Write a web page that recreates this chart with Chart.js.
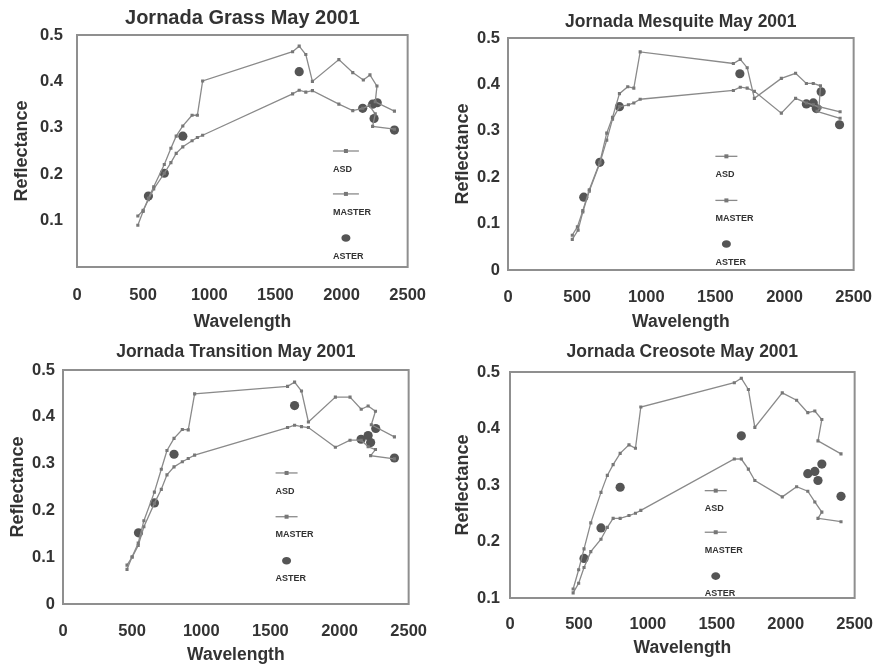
<!DOCTYPE html>
<html>
<head>
<meta charset="utf-8">
<script src="https://cdn.jsdelivr.net/npm/chart.js@4.4.1/dist/chart.umd.min.js"></script>
<style>
  body { margin: 0; background: #fff; width: 890px; height: 669px; overflow: hidden; position: relative; }
  canvas { position: absolute; }
</style>
</head>
<body>
<canvas id="grass" width="445" height="335" style="left:0;top:0"></canvas>
<canvas id="mesquite" width="445" height="335" style="left:445px;top:0"></canvas>
<canvas id="transition" width="445" height="334" style="left:0;top:335px"></canvas>
<canvas id="creosote" width="445" height="334" style="left:445px;top:335px"></canvas>
<script>
// ---- Jornada Grass ----
var grassAsdWl  = [460, 500, 540, 580, 660, 710, 750, 800, 870, 910, 950, 1630, 1680, 1730, 1780, 1980, 2085, 2165, 2215, 2268, 2255, 2400];
var grassAsd    = [0.09, 0.12, 0.148, 0.173, 0.221, 0.256, 0.282, 0.304, 0.327, 0.327, 0.401, 0.464, 0.476, 0.458, 0.40, 0.447, 0.419, 0.403, 0.414, 0.39, 0.356, 0.336];
var grassMasterWl = [460, 500, 540, 580, 660, 710, 750, 800, 870, 910, 950, 1630, 1680, 1730, 1780, 1980, 2085, 2160, 2210, 2255, 2235, 2400];
var grassMaster   = [0.11, 0.122, 0.145, 0.168, 0.202, 0.225, 0.245, 0.259, 0.272, 0.279, 0.284, 0.373, 0.381, 0.377, 0.38, 0.351, 0.337, 0.342, 0.348, 0.33, 0.303, 0.297];
var grassAsterWl = [540, 660, 800, 1680, 2160, 2235, 2270, 2246, 2400];
var grassAster   = [0.153, 0.202, 0.282, 0.421, 0.342, 0.351, 0.354, 0.32, 0.295];

// ---- Jornada Mesquite ----
var mesqAsdWl = [465, 502, 541, 588, 664, 714, 756, 806, 866, 910, 956, 1630, 1680, 1730, 1782, 1977, 2080, 2158, 2208, 2260, 2250, 2402];
var mesqAsd   = [0.075, 0.093, 0.128, 0.173, 0.232, 0.295, 0.329, 0.38, 0.395, 0.392, 0.47, 0.445, 0.454, 0.436, 0.37, 0.413, 0.424, 0.402, 0.402, 0.397, 0.352, 0.341];
var mesqMasterWl = [465, 507, 541, 588, 664, 714, 756, 806, 871, 910, 956, 1630, 1680, 1730, 1782, 1977, 2080, 2158, 2208, 2258, 2235, 2402];
var mesqMaster   = [0.066, 0.086, 0.125, 0.17, 0.23, 0.28, 0.325, 0.352, 0.356, 0.36, 0.368, 0.387, 0.394, 0.392, 0.385, 0.338, 0.37, 0.36, 0.356, 0.35, 0.342, 0.327];
var mesqAsterWl = [548, 664, 806, 1677, 2158, 2208, 2230, 2265, 2398];
var mesqAster   = [0.157, 0.232, 0.352, 0.423, 0.358, 0.36, 0.348, 0.384, 0.313];

// ---- Jornada Transition ----
var tranAsdWl = [463, 500, 544, 585, 661, 711, 752, 803, 863, 906, 952, 1624, 1675, 1725, 1775, 1970, 2076, 2157, 2207, 2260, 2230, 2397];
var tranAsd   = [0.074, 0.101, 0.13, 0.178, 0.239, 0.288, 0.328, 0.354, 0.373, 0.372, 0.449, 0.465, 0.474, 0.455, 0.389, 0.442, 0.442, 0.416, 0.423, 0.412, 0.383, 0.357];
var tranMasterWl = [463, 500, 544, 585, 661, 711, 752, 803, 863, 906, 952, 1624, 1675, 1725, 1775, 1970, 2076, 2157, 2207, 2260, 2225, 2397];
var tranMaster   = [0.083, 0.1, 0.125, 0.165, 0.215, 0.245, 0.276, 0.293, 0.304, 0.311, 0.318, 0.377, 0.382, 0.379, 0.377, 0.335, 0.35, 0.35, 0.336, 0.33, 0.317, 0.31];
var tranAsterWl = [546, 661, 803, 1675, 2156, 2207, 2225, 2262, 2397];
var tranAster   = [0.152, 0.216, 0.32, 0.424, 0.352, 0.36, 0.345, 0.375, 0.312];

// ---- Jornada Creosote ----
var creoAsdWl = [458, 498, 537, 586, 660, 706, 748, 799, 863, 910, 949, 1627, 1678, 1729, 1776, 1975, 2079, 2160, 2211, 2262, 2234, 2401];
var creoAsd   = [0.116, 0.15, 0.187, 0.233, 0.287, 0.317, 0.336, 0.356, 0.371, 0.365, 0.438, 0.481, 0.489, 0.469, 0.402, 0.463, 0.45, 0.428, 0.431, 0.416, 0.378, 0.355];
var creoMasterWl = [458, 498, 537, 586, 660, 706, 748, 799, 863, 910, 949, 1627, 1678, 1729, 1776, 1975, 2079, 2160, 2211, 2262, 2234, 2401];
var creoMaster   = [0.109, 0.126, 0.154, 0.182, 0.204, 0.225, 0.241, 0.241, 0.246, 0.25, 0.255, 0.346, 0.346, 0.328, 0.308, 0.279, 0.297, 0.289, 0.27, 0.252, 0.241, 0.235];
var creoAsterWl = [537, 660, 799, 1678, 2160, 2211, 2234, 2262, 2401];
var creoAster   = [0.17, 0.224, 0.296, 0.387, 0.32, 0.324, 0.308, 0.337, 0.28];

var xTicks = [0, 500, 1000, 1500, 2000, 2500];

Chart.defaults.font.family = "'Liberation Sans', Arial, sans-serif";
Chart.defaults.color = '#333';

function pts(wl, val) {
    return wl.map(function(w, i) { return {x: w, y: val[i]}; });
}

// box around the plot + the little key sitting inside it
var boxKey = {
    id: 'boxKey',
    beforeDatasetsDraw: function(chart) {
        var ctx = chart.ctx, a = chart.chartArea;
        ctx.save();
        ctx.strokeStyle = '#8f8f8f';
        ctx.lineWidth = 2;
        ctx.strokeRect(a.left, a.top, a.right - a.left, a.bottom - a.top);
        ctx.restore();
    },
    afterDatasetsDraw: function(chart, args, o) {
        var ctx = chart.ctx, a = chart.chartArea;
        var x = a.left + o.x * (a.right - a.left);
        var ys = o.y.map(function(f) { return a.top + f * (a.bottom - a.top); });
        var w = o.w || 24;
        ctx.save();
        ctx.strokeStyle = '#8a8a8a';
        ctx.fillStyle = '#777';
        ctx.lineWidth = 1.3;
        [ys[0], ys[2]].forEach(function(y) {
            ctx.beginPath(); ctx.moveTo(x, y); ctx.lineTo(x + w, y); ctx.stroke();
            ctx.fillRect(x + w / 2 - 2, y - 2, 4, 4);
        });
        ctx.fillStyle = '#555';
        ctx.beginPath();
        ctx.ellipse(x + w / 2, ys[4], 4.5, 3.8, 0, 0, Math.PI * 2);
        ctx.fill();
        ctx.fillStyle = '#333';
        ctx.font = "bold 9px 'Liberation Sans', Arial, sans-serif";
        ctx.textBaseline = 'middle';
        ctx.fillText('ASD', x, ys[1]);
        ctx.fillText('MASTER', x, ys[3]);
        ctx.fillText('ASTER', x, ys[5]);
        ctx.restore();
    }
};

function makeChart(id, p) {
    return new Chart(document.getElementById(id), {
        type: 'scatter',
        data: {
            datasets: [{
                label: 'ASD',
                data: pts(p.asdWl, p.asd),
                showLine: true,
                borderColor: '#8a8a8a',
                borderWidth: 1.3,
                backgroundColor: '#777',
                pointStyle: 'rect',
                pointRadius: 2.2,
                pointBorderWidth: 0
            }, {
                label: 'MASTER',
                data: pts(p.masterWl, p.master),
                showLine: true,
                borderColor: '#8a8a8a',
                borderWidth: 1.3,
                backgroundColor: '#777',
                pointStyle: 'rect',
                pointRadius: 2.2,
                pointBorderWidth: 0
            }, {
                label: 'ASTER',
                data: pts(p.asterWl, p.aster),
                showLine: false,
                backgroundColor: '#555',
                borderColor: '#555',
                pointStyle: 'circle',
                pointRadius: 4.6,
                pointBorderWidth: 0
            }]
        },
        options: {
            responsive: false,
            animation: false,
            layout: {padding: {right: p.padRight}},
            plugins: {
                legend: {display: false},
                tooltip: {enabled: false},
                title: {
                    display: true,
                    fullSize: false,   // centre over the plot, not the canvas
                    text: p.title,
                    color: '#333',
                    font: {size: p.titleSize, weight: 'bold'},
                    padding: {top: p.titleTop, bottom: p.titleBottom}
                },
                boxKey: p.key
            },
            scales: {
                x: {
                    type: 'linear',
                    min: 0, max: 2500,
                    afterBuildTicks: function(s) { s.ticks = xTicks.map(function(v) { return {value: v}; }); },
                    afterFit: function(s) { s.height = p.xHeight; },
                    grid: {display: false, drawTicks: false},
                    border: {display: false},
                    ticks: {
                        padding: p.xTickPad,
                        color: '#333',
                        font: {size: 16.5, weight: 'bold'},
                        maxRotation: 0,
                        callback: function(v) { return String(v); }
                    },
                    title: {
                        display: true,
                        text: 'Wavelength',
                        color: '#333',
                        font: {size: 17.5, weight: 'bold'},
                        padding: {top: 0, bottom: p.xTitlePad}
                    }
                },
                y: {
                    min: p.yMin, max: 0.5,
                    afterBuildTicks: function(s) { s.ticks = p.yTicks.map(function(v) { return {value: v}; }); },
                    afterFit: function(s) { s.width = p.yWidth; },
                    grid: {display: false, drawTicks: false},
                    border: {display: false},
                    ticks: {
                        padding: p.yTickPad,
                        color: '#333',
                        font: {size: 16.5, weight: 'bold'},
                        callback: function(v) {
                            if (p.hideZero && v === 0) return '';
                            return v === 0 ? '0' : v.toFixed(1);
                        }
                    },
                    title: {
                        display: true,
                        text: 'Reflectance',
                        color: '#333',
                        font: {size: 18, weight: 'bold'},
                        padding: {top: p.yTitlePad, bottom: 0}
                    }
                }
            }
        },
        plugins: [boxKey]
    });
}

makeChart('grass', {
    title: 'Jornada Grass May 2001', titleSize: 20, titleTop: 6, titleBottom: 5,
    asdWl: grassAsdWl, asd: grassAsd, masterWl: grassMasterWl, master: grassMaster,
    asterWl: grassAsterWl, aster: grassAster,
    yMin: 0, yTicks: [0, 0.1, 0.2, 0.3, 0.4, 0.5], hideZero: true,
    padRight: 27, xHeight: 68, yWidth: 77,
    xTickPad: 19, xTitlePad: 2, yTickPad: 14, yTitlePad: 11,
    key: {x: 0.774, y: [0.5, 0.578, 0.685, 0.763, 0.875, 0.953], w: 26}
});
makeChart('mesquite', {
    title: 'Jornada Mesquite May 2001', titleSize: 17.5, titleTop: 12, titleBottom: 5,
    asdWl: mesqAsdWl, asd: mesqAsd, masterWl: mesqMasterWl, master: mesqMaster,
    asterWl: mesqAsterWl, aster: mesqAster,
    yMin: 0, yTicks: [0, 0.1, 0.2, 0.3, 0.4, 0.5], hideZero: false,
    padRight: 20, xHeight: 65, yWidth: 63,
    xTickPad: 18, xTitlePad: 2, yTickPad: 8, yTitlePad: 7.5,
    key: {x: 0.6, y: [0.51, 0.59, 0.70, 0.776, 0.888, 0.966], w: 22}
});
makeChart('transition', {
    title: 'Jornada Transition May 2001', titleSize: 17.5, titleTop: 6.5, titleBottom: 7.5,
    asdWl: tranAsdWl, asd: tranAsd, masterWl: tranMasterWl, master: tranMaster,
    asterWl: tranAsterWl, aster: tranAster,
    yMin: 0, yTicks: [0, 0.1, 0.2, 0.3, 0.4, 0.5], hideZero: false,
    padRight: 18, xHeight: 65, yWidth: 63,
    xTickPad: 18, xTitlePad: 3.5, yTickPad: 8, yTitlePad: 7.5,
    key: {x: 0.615, y: [0.44, 0.52, 0.627, 0.705, 0.815, 0.89], w: 22}
});
makeChart('creosote', {
    title: 'Jornada Creosote May 2001', titleSize: 17.5, titleTop: 6.5, titleBottom: 9.5,
    asdWl: creoAsdWl, asd: creoAsd, masterWl: creoMasterWl, master: creoMaster,
    asterWl: creoAsterWl, aster: creoAster,
    yMin: 0.1, yTicks: [0.1, 0.2, 0.3, 0.4, 0.5], hideZero: false,
    padRight: 20, xHeight: 71, yWidth: 65,
    xTickPad: 17, xTitlePad: 10.5, yTickPad: 10, yTitlePad: 7.5,
    key: {x: 0.565, y: [0.525, 0.603, 0.709, 0.79, 0.903, 0.98], w: 22}
});
</script>
</body>
</html>
